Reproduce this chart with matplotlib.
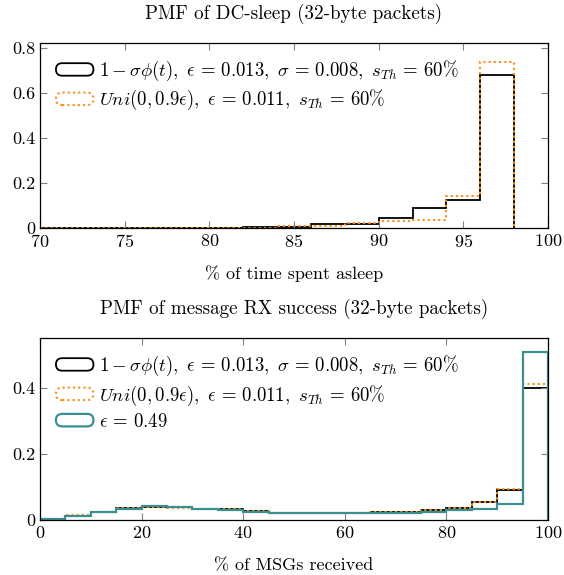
import matplotlib
matplotlib.use("Agg")
import matplotlib.pyplot as plt
from matplotlib.legend_handler import HandlerBase
from matplotlib.patches import FancyBboxPatch

plt.rcParams["font.family"] = "serif"
plt.rcParams["font.serif"] = ["cmr10"]
plt.rcParams["mathtext.fontset"] = "cm"
plt.rcParams["axes.formatter.use_mathtext"] = True

# top chart: DC-sleep, bins of 2 % from 70 to 98
sleep_edges = [70, 72, 74, 76, 78, 80, 82, 84, 86, 88, 90, 92, 94, 96, 98]
sleep_sigma = [0.001, 0.001, 0.001, 0.001, 0.001, 0.002, 0.003, 0.005, 0.016, 0.016, 0.045, 0.09, 0.124, 0.68]
sleep_uni = [0.001, 0.001, 0.001, 0.001, 0.001, 0.001, 0.002, 0.008, 0.008, 0.02, 0.03, 0.035, 0.142, 0.738]

# bottom chart: message RX success, bins of 5 %
rx_edges = [0, 5, 10, 15, 20, 25, 30, 35, 40, 45, 50, 55, 60, 65, 70, 75, 80, 85, 90, 95, 100]
rx_sigma = [0.002, 0.013, 0.023, 0.035, 0.04, 0.038, 0.034, 0.032, 0.027, 0.022, 0.022, 0.02, 0.021, 0.023,
            0.025, 0.029, 0.036, 0.054, 0.091, 0.401]
rx_uni = [0.002, 0.014, 0.023, 0.035, 0.039, 0.037, 0.034, 0.032, 0.027, 0.022, 0.021, 0.022, 0.021, 0.023,
          0.025, 0.029, 0.037, 0.056, 0.093, 0.411]
rx_eps = [0.002, 0.013, 0.023, 0.034, 0.041, 0.039, 0.034, 0.031, 0.025, 0.021, 0.021, 0.021, 0.02, 0.02,
          0.021, 0.024, 0.029, 0.034, 0.05, 0.509]

lbl_sigma = r"$1-\sigma\phi(t),\ \epsilon\,=\,0.013,\ \sigma\,=\,0.008,\ s_{Th}\,=\,60\%$"
lbl_uni = r"$Uni(0,0.9\epsilon),\ \epsilon\,=\,0.011,\ s_{Th}\,=\,60\%$"
lbl_eps = r"$\epsilon\,=\,\mathit{0.49}$"

BLACK = "black"
ORANGE = "#ff8c1a"
TEAL = "#3a9090"

FS = 13


class RoundHandler(HandlerBase):
    # rounded box legend entries, like pgfplots area legend
    def create_artists(self, legend, orig, xdescent, ydescent, width, height, fontsize, trans):
        p = FancyBboxPatch((-xdescent, -ydescent), width, height,
                           boxstyle="round,pad=0,rounding_size=%f" % (height / 2),
                           facecolor="none", edgecolor=orig.get_edgecolor(),
                           linestyle=orig.get_linestyle(), linewidth=orig.get_linewidth(),
                           transform=trans)
        return [p]


def style(ax):
    ax.tick_params(direction="in", top=True, right=True, length=5, color="#808080", labelsize=FS)
    for s in ax.spines.values():
        s.set_linewidth(0.9)


def add_legend(ax, handles):
    ax.legend(handles=handles, loc="upper left", frameon=False, fontsize=13.5,
              handler_map={h: RoundHandler() for h in handles},
              handlelength=2.0, handleheight=0.65, handletextpad=0.3, labelspacing=0.28,
              borderaxespad=0.45)


fig = plt.figure(figsize=(5.64, 5.75), dpi=100)

ax1 = fig.add_axes([40 / 564, 1 - 228 / 575, 508 / 564, 185 / 575])
h1 = ax1.stairs(sleep_sigma, sleep_edges, color=BLACK, lw=1.3, label=lbl_sigma)
h2 = ax1.stairs(sleep_uni, sleep_edges, color=ORANGE, lw=1.5, ls=(0, (1, 1.5)), label=lbl_uni)
ax1.set_xlim(70, 100)
ax1.set_ylim(0, 0.822)
ax1.set_xticks([70, 75, 80, 85, 90, 95, 100])
ax1.set_yticks([0, 0.2, 0.4, 0.6, 0.8])
ax1.set_yticklabels(["0", "0.2", "0.4", "0.6", "0.8"])
ax1.set_title("PMF of DC-sleep (32-byte packets)", fontsize=13.7, pad=17)
ax1.set_xlabel("% of time spent asleep", fontsize=FS, labelpad=11)
style(ax1)
add_legend(ax1, [h1, h2])

ax2 = fig.add_axes([40 / 564, 1 - 520 / 575, 508 / 564, 182 / 575])
g1 = ax2.stairs(rx_sigma, rx_edges, color=BLACK, lw=1.3, label=lbl_sigma)
g2 = ax2.stairs(rx_uni, rx_edges, color=ORANGE, lw=1.5, ls=(0, (1, 1.5)), label=lbl_uni)
g3 = ax2.stairs(rx_eps, rx_edges, color=TEAL, lw=1.6, label=lbl_eps)
ax2.set_xlim(0, 100)
ax2.set_ylim(0, 0.552)
ax2.set_xticks([0, 20, 40, 60, 80, 100])
ax2.set_yticks([0, 0.2, 0.4])
ax2.set_yticklabels(["0", "0.2", "0.4"])
ax2.set_title("PMF of message RX success (32-byte packets)", fontsize=13.7, pad=17)
ax2.set_xlabel("% of MSGs received", fontsize=FS, labelpad=12)
style(ax2)
add_legend(ax2, [g1, g2, g3])

fig.savefig("out.png", dpi=100)
